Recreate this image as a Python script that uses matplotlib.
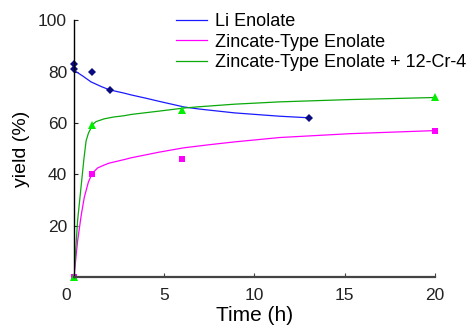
import numpy as np
import matplotlib
matplotlib.use("Agg")
import matplotlib.pyplot as plt
import matplotlib.transforms as mtransforms

plt.rcParams['font.family'] = ['Liberation Sans', 'DejaVu Sans']

# measured points
li_t = [0, 0, 1, 2, 13]
li_y = [83, 81, 80, 73, 62]
zn_t = [0, 1, 6, 20]
zn_y = [0, 40, 46, 57]
cr_t = [0, 1, 6, 20]
cr_y = [0, 59, 65, 70]

# fitted curves
li_fit_t = [0, 0.5, 0.94, 1.5, 1.96, 2.78, 3.17, 4.0, 4.72, 6.1, 6.94, 8.9, 11.4, 13]
li_fit_y = [80.5, 78.2, 76.0, 74.2, 72.9, 71.6, 70.9, 69.6, 68.4, 66.2, 65.4, 63.9, 62.6, 62.0]
zn_fit_t = [0, 0.2, 0.4, 0.57, 0.8, 1.0, 1.3, 1.68, 1.94, 2.78, 3.17, 4.72, 6.1, 7.5, 8.9, 11.4, 15.3, 20]
zn_fit_y = [0, 14, 24, 31, 37, 40.2, 42.4, 43.6, 44.3, 45.7, 46.4, 48.6, 50.3, 51.5, 52.6, 54.3, 55.8, 57.0]
cr_fit_t = [0, 0.2, 0.39, 0.55, 0.67, 0.8, 0.94, 1.05, 1.22, 1.68, 2.2, 2.78, 3.17, 4.72, 6.1, 6.94, 8.9, 11.4, 15.3, 20]
cr_fit_y = [0, 22, 35, 46, 53, 56, 58, 59.5, 60.5, 61.6, 62.3, 62.8, 63.3, 64.6, 65.8, 66.3, 67.3, 68.2, 69.1, 69.9]

labels = ["Li Enolate", "Zincate-Type Enolate", "Zincate-Type Enolate + 12-Cr-4"]
xticks = [0, 5, 10, 15, 20]
yticks = [20, 40, 60, 80, 100]

fig = plt.figure(figsize=(4.67, 3.27), dpi=100)
ax = fig.add_axes([74 / 467, 50.2 / 327, 361 / 467, 256.5 / 327])

ax.plot(li_fit_t, li_fit_y, color='#1a1aff', lw=0.9, label=labels[0])
ax.plot(zn_fit_t, zn_fit_y, color='#ff00ff', lw=0.9, label=labels[1])
ax.plot(cr_fit_t, cr_fit_y, color='#0aaa0a', lw=0.9, label=labels[2])

ax.plot(zn_t, zn_y, 's', color='#ff00ff', ms=5, mew=0, clip_on=False)
ax.plot(cr_t, cr_y, '^', color='#00ee00', ms=5.5, mew=0, clip_on=False)
ax.plot(li_t, li_y, 'D', color='#0b0b80', ms=4, mew=0, clip_on=False)

ax.set_xlim(0, 20)
ax.set_ylim(0, 100)
ax.set_xticks(xticks)
ax.set_yticks(yticks)
ax.tick_params(direction='in', length=3, labelsize=12.5, colors='#222222')
ax.tick_params(axis='x', pad=8, color='#444444')
ax.tick_params(axis='y', pad=5)
for s in ['top', 'right']:
    ax.spines[s].set_visible(False)
ax.spines['left'].set_color('black')
ax.spines['left'].set_linewidth(1.0)
ax.spines['bottom'].set_color('#444444')
ax.spines['bottom'].set_linewidth(1.6)

# the "0" label sits left of the axis corner
off = mtransforms.ScaledTranslation(-8 / 100, 0, fig.dpi_scale_trans)
first = ax.get_xticklabels()[0]
first.set_transform(first.get_transform() + off)

ax.set_xlabel("Time (h)", fontsize=15, labelpad=2)
ax.set_ylabel("yield (%)", fontsize=14, labelpad=6)

ax.legend(loc='upper left', bbox_to_anchor=(176 / 467, 1 - 13 / 327),
          bbox_transform=fig.transFigure, frameon=False, fontsize=13,
          handlelength=1.7, handletextpad=0.45, labelspacing=0.2,
          borderpad=0, borderaxespad=0)

fig.savefig("out.png", dpi=100)
